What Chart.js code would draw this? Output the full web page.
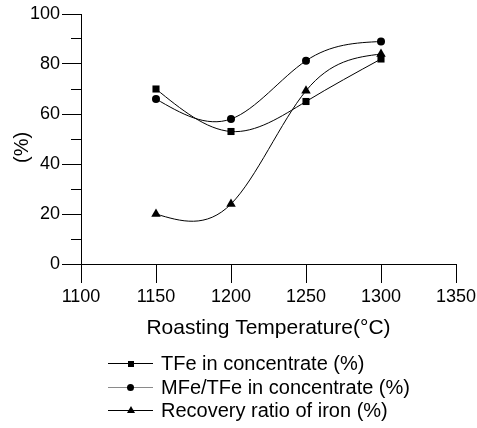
<!DOCTYPE html>
<html>
<head>
<meta charset="utf-8">
<script src="https://cdn.jsdelivr.net/npm/chart.js@4.4.0/dist/chart.umd.min.js"></script>
<style>
  body { margin: 0; background: #fff; }
  #wrap { position: relative; width: 477px; height: 428px; }
  #legend {
    position: absolute; left: 108px; top: 352px;
    font: 20px "Liberation Sans", Arial, sans-serif; color: #000;
  }
  .row { display: flex; align-items: center; height: 23.5px; white-space: nowrap; }
  .sym { position: relative; width: 45px; height: 1px; background: #000; margin-right: 8px; }
  .sym.grey { background: #8a8a8a; }
  .sym i { position: absolute; left: 50%; top: 50%; background: #000; }
  .sq { width: 6px; height: 6px; margin: -3px 0 0 -3px; }
  .ci { width: 7px; height: 7px; margin: -3.5px 0 0 -3.5px; border-radius: 50%; }
  .tr { width: 0 !important; height: 0; background: none !important;
        border-left: 4px solid transparent; border-right: 4px solid transparent;
        border-bottom: 7px solid #000; margin: -4.5px 0 0 -4px; }
</style>
</head>
<body>
<div id="wrap">
  <canvas id="roasting" width="477" height="428"></canvas>
  <div id="legend">
    <div class="row"><span class="sym"><i class="sq"></i></span>TFe in concentrate (%)</div>
    <div class="row"><span class="sym grey"><i class="ci"></i></span>MFe/TFe in concentrate (%)</div>
    <div class="row"><span class="sym"><i class="tr"></i></span>Recovery ratio of iron (%)</div>
  </div>
</div>
<script>
  // ===============Roasting temperature chart ==================//
  const temps = [1150, 1200, 1250, 1300];
  const tfe = [70, 53, 65, 82];
  const mfeTfe = [66, 58, 81.3, 89];
  const recovery = [20, 24, 69.3, 84];
  const xTicks = [1100, 1150, 1200, 1250, 1300, 1350];
  const yTicks = [0, 20, 40, 60, 80, 100];

  Chart.defaults.font.family = "'Liberation Sans', Arial, sans-serif";
  Chart.defaults.color = "#000";

  const points = (vals) => temps.map((t, i) => ({ x: t, y: vals[i] }));

  // natural cubic spline through each series, drawn in pixel space
  const splinePlugin = {
    id: "spline",
    beforeDatasetsDraw(chart) {
      const ctx = chart.ctx;
      const xs = chart.scales.x;
      const ys = chart.scales.y;
      chart.data.datasets.forEach((ds) => {
        const px = ds.data.map((p) => xs.getPixelForValue(p.x));
        const py = ds.data.map((p) => ys.getPixelForValue(p.y));
        const n = px.length;
        const h = [];
        for (let i = 0; i < n - 1; i++) h.push(px[i + 1] - px[i]);
        const M = new Array(n).fill(0);
        const a = [], b = [], c = [], r = [];
        for (let i = 1; i < n - 1; i++) {
          a.push(h[i - 1]);
          b.push(2 * (h[i - 1] + h[i]));
          c.push(h[i]);
          r.push(6 * ((py[i + 1] - py[i]) / h[i] - (py[i] - py[i - 1]) / h[i - 1]));
        }
        const m = b.length;
        for (let i = 1; i < m; i++) {
          const w = a[i] / b[i - 1];
          b[i] -= w * c[i - 1];
          r[i] -= w * r[i - 1];
        }
        for (let i = m - 1; i >= 0; i--) {
          const next = i < m - 1 ? M[i + 2] : 0;
          M[i + 1] = (r[i] - c[i] * next) / b[i];
        }
        ctx.save();
        ctx.beginPath();
        ctx.moveTo(px[0], py[0]);
        for (let i = 0; i < n - 1; i++) {
          const d = (py[i + 1] - py[i]) / h[i];
          const s0 = d - (h[i] * (2 * M[i] + M[i + 1])) / 6;
          const s1 = d + (h[i] * (M[i] + 2 * M[i + 1])) / 6;
          ctx.bezierCurveTo(
            px[i] + h[i] / 3, py[i] + (s0 * h[i]) / 3,
            px[i + 1] - h[i] / 3, py[i + 1] - (s1 * h[i]) / 3,
            px[i + 1], py[i + 1]
          );
        }
        ctx.strokeStyle = "#000";
        ctx.lineWidth = 1;
        ctx.stroke();
        ctx.restore();
      });
    },
  };

  const roasting = document.getElementById("roasting");
  new Chart(roasting, {
    type: "line",
    plugins: [splinePlugin],
    data: {
      datasets: [
        {
          label: "TFe in concentrate (%)",
          data: points(tfe),
          showLine: false,
          pointStyle: "rect",
          pointRadius: 5,
          backgroundColor: "#000",
          borderColor: "#000",
          borderWidth: 0,
        },
        {
          label: "MFe/TFe in concentrate (%)",
          data: points(mfeTfe),
          showLine: false,
          pointStyle: "circle",
          pointRadius: 4,
          backgroundColor: "#000",
          borderColor: "#000",
          borderWidth: 0,
        },
        {
          label: "Recovery ratio of iron (%)",
          data: points(recovery),
          showLine: false,
          pointStyle: "triangle",
          pointRadius: 5.5,
          backgroundColor: "#000",
          borderColor: "#000",
          borderWidth: 0,
        },
      ],
    },
    options: {
      responsive: false,
      animation: false,
      layout: {
        padding: { left: 0, top: 14, right: 21, bottom: 87 },
      },
      scales: {
        x: {
          type: "linear",
          min: xTicks[0],
          max: xTicks[xTicks.length - 1],
          afterFit: (s) => {
            s.height = 77;
            s.paddingLeft = 0;
            s.paddingRight = 0;
          },
          ticks: {
            stepSize: xTicks[1] - xTicks[0],
            font: { size: 18 },
            padding: 3,
            color: "#000",
            callback: (v) => String(v),
          },
          grid: {
            drawOnChartArea: false,
            tickLength: 19,
            tickColor: "#000",
            color: "#000",
          },
          border: { color: "#000", width: 1 },
          title: {
            display: true,
            text: "Roasting Temperature(°C)",
            font: { size: 21 },
            color: "#000",
            padding: { top: 0, bottom: 0 },
          },
        },
        y: {
          min: yTicks[0],
          max: yTicks[yTicks.length - 1],
          afterFit: (s) => { s.width = 81; },
          ticks: {
            stepSize: (yTicks[1] - yTicks[0]) / 2,
            autoSkip: false,
            font: { size: 18 },
            padding: 2,
            color: "#000",
            callback: (v) => (yTicks.includes(v) ? String(v) : ""),
          },
          grid: {
            drawOnChartArea: false,
            tickLength: 19,
            tickColor: "#000",
            color: "#000",
            tickBorderDash: (c) => (c.tick && !yTicks.includes(c.tick.value) ? [0, 9, 10, 100] : []),
          },
          border: { color: "#000", width: 1 },
          title: {
            display: true,
            text: "(%)   ",
            font: { size: 20 },
            color: "#000",
            padding: { top: 10, bottom: 0 },
          },
        },
      },
      plugins: {
        legend: { display: false },
        tooltip: { enabled: false },
      },
    },
  });
  // ===============Roasting temperature chart ==================//
</script>
</body>
</html>
